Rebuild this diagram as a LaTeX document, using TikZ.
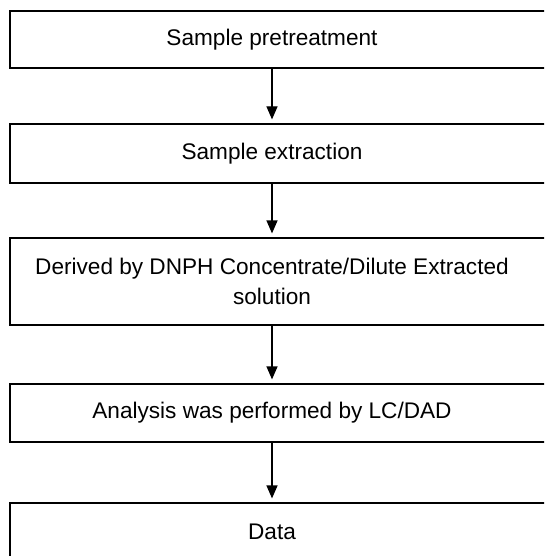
\documentclass[tikz,border=0pt]{standalone}
\usepackage{fontspec}
\setmainfont{Liberation Sans}
\usetikzlibrary{arrows.meta}

\newcommand{\stagetext}[1]{\parbox{510pt}{\centering #1}\hspace*{18pt}}

\tikzset{
	stage/.style={draw, line width=1.2pt, rectangle, inner sep=0pt,
		minimum width=542pt, font=\fontsize{22.6}{30}\selectfont},
	flow/.style={line width=1.2pt, -{Triangle[width=11pt,length=13pt]}, shorten >=4pt}
}

\begin{document}
\begin{tikzpicture}[x=1pt,y=1pt]
				\useasboundingbox (0,0) rectangle (544,-556);
				\clip (0,0) rectangle (544,-556);

				\node[stage, minimum height=57pt] (pretreat) at (281,-39.5) {\stagetext{Sample pretreatment}};
				\node[stage, minimum height=59pt] (extract) at (281,-153.5) {\stagetext{Sample extraction}};
				\node[stage, minimum height=87pt] (derive) at (281,-281.5) {\stagetext{Derived by DNPH Concentrate/Dilute Extracted\\ solution}};
				\node[stage, minimum height=58pt] (analysis) at (281,-413) {\stagetext{Analysis was performed by LC/DAD}};
				\node[stage, minimum height=58pt] (data) at (281,-532) {\stagetext{Data}};

				\draw[flow] ([xshift=-9pt]pretreat.south) -- ([xshift=-9pt]extract.north);
				\draw[flow] ([xshift=-9pt]extract.south) -- ([xshift=-9pt]derive.north);
				\draw[flow] ([xshift=-9pt]derive.south) -- ([xshift=-9pt]analysis.north);
				\draw[flow] ([xshift=-9pt]analysis.south) -- ([xshift=-9pt]data.north);
\end{tikzpicture}
\end{document}
